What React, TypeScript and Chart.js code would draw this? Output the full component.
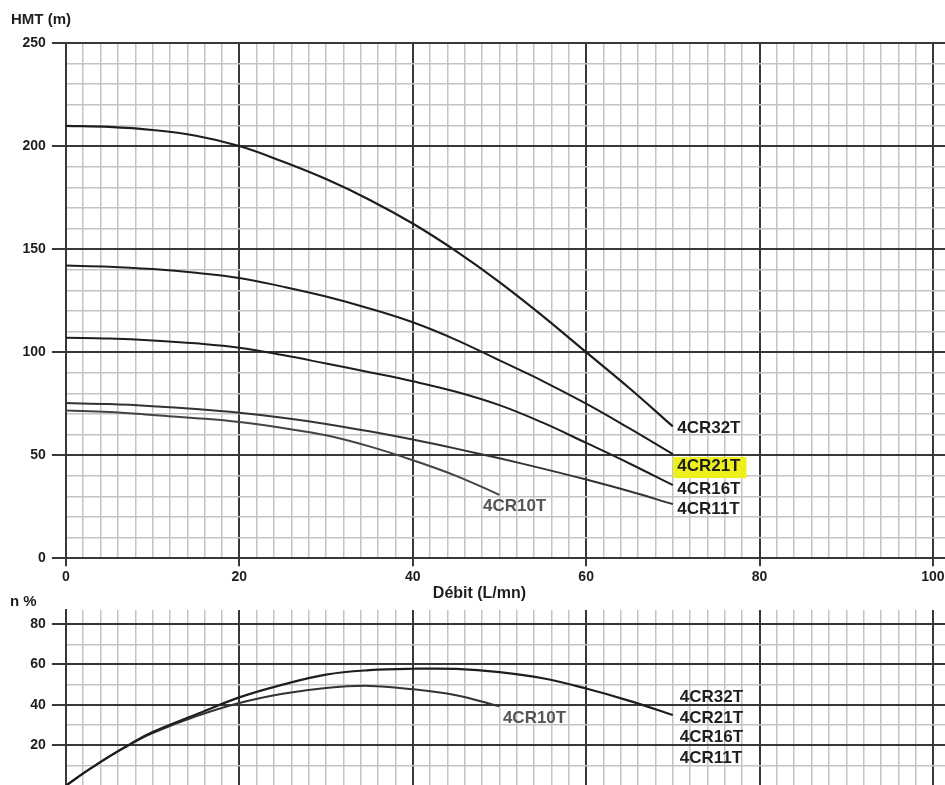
import React, { useEffect, useRef } from 'react';
import { Chart, registerables } from 'chart.js';

Chart.register(...registerables);

// ---------- DATA ----------
const flowH = [0, 5, 10, 15, 20, 25, 30, 35, 40, 45, 50, 55, 60, 65, 70];
const head4CR32T = [209.8, 209.3, 207.8, 205, 200, 192.5, 184, 174, 162.4, 149, 134, 117.5, 100, 82.5, 64];
const head4CR21T = [142, 141.5, 140.3, 138.5, 136, 131.8, 127, 121.2, 114.5, 106, 96, 86, 75, 63, 50.5];
const head4CR16T = [107, 106.6, 105.7, 104.3, 102.2, 98.6, 94.5, 90.3, 85.9, 80.8, 74.3, 65.8, 56, 46, 35.5];
const head4CR11T = [75.3, 74.8, 73.8, 72.4, 70.6, 68.2, 65.2, 61.6, 57.6, 53.2, 48.5, 43.5, 38.2, 32.5, 26.3];
const flowH10 = [0, 5, 10, 15, 20, 25, 30, 35, 40, 45, 50];
const head4CR10T = [71.7, 71, 69.5, 68, 66.1, 63.2, 59.7, 54.3, 47.6, 40, 30.8];

const flowEta = [0, 2.5, 5, 7.5, 10, 15, 20, 25, 30, 35, 40, 45, 50, 55, 60, 65, 70];
const eta4CR32T = [0, 7.5, 14.5, 20.8, 26.5, 35.2, 43.7, 50, 55, 57.2, 57.9, 57.8, 56.2, 53.2, 48.1, 42, 35];
const flowEta10 = [0, 2.5, 5, 7.5, 10, 15, 20, 25, 30, 35, 40, 45, 50];
const eta4CR10T = [0, 7.5, 14.4, 20.6, 26, 34.3, 40.9, 45.5, 48.4, 49.4, 47.7, 44.8, 39.3];

const curveNames = ['4CR32T', '4CR21T', '4CR16T', '4CR11T', '4CR10T'];
const headLabelAnchors = [[70.5, 63.0], [70.5, 44.5], [70.5, 33.6], [70.5, 23.9], [48.1, 25.0]];
const etaLabelAnchors = [[70.8, 43.5], [70.8, 33.4], [70.8, 24.0], [70.8, 13.5], [50.4, 33.3]];

const xTickLabels = [0, 20, 40, 60, 80, 100];
const headTickLabels = [0, 50, 100, 150, 200, 250];
const etaTickLabels = [20, 40, 60, 80];

// ---------- STYLE ----------
const FAMILY = '"Liberation Sans", Arial, Helvetica, sans-serif';
const MAJOR = '#383838';
const MINOR = '#c4c4c4';
const INK = '#1e1e1e';
const GREYINK = '#555555';
const TRANSPARENT = 'rgba(0,0,0,0)';
const tickFont = { family: FAMILY, size: 14, weight: 'bold' as const };

const pts = (xs: number[], ys: number[]) => xs.map((x, i) => ({ x, y: ys[i] }));
const stepTicks = (max: number, step: number) =>
  Array.from({ length: Math.floor(max / step) + 1 }, (_, i) => ({ value: i * step }));

function xScale(showLabels: boolean, height: number) {
  return {
    type: 'linear' as const,
    min: 0,
    max: 102,
    afterBuildTicks: (s: any) => { s.ticks = stepTicks(102, 2); },
    afterFit: (s: any) => { s.height = height; },
    ticks: {
      display: showLabels,
      autoSkip: false,
      maxRotation: 0,
      padding: 2,
      color: INK,
      font: tickFont,
      callback: (v: any) => (xTickLabels.includes(Number(v)) ? String(v) : ''),
    },
    grid: {
      color: (c: any) => (c.tick && c.tick.value % 20 === 0 ? MAJOR : MINOR),
      lineWidth: (c: any) => (c.tick && c.tick.value % 20 === 0 ? 2 : 1.5),
      drawTicks: showLabels,
      tickLength: 8,
      tickWidth: 2,
      tickColor: (c: any) => (c.tick && c.tick.value % 20 === 0 ? MAJOR : TRANSPARENT),
    },
    border: { color: MAJOR, width: 2 },
  };
}

function yScale(max: number, tickMax: number, majorStep: number, labels: number[]) {
  return {
    type: 'linear' as const,
    min: 0,
    max,
    afterBuildTicks: (s: any) => { s.ticks = stepTicks(tickMax, 10); },
    afterFit: (s: any) => { s.width = 65.9; },
    ticks: {
      autoSkip: false,
      padding: 6,
      color: INK,
      font: tickFont,
      callback: (v: any) => (labels.includes(Number(v)) ? String(v) : ''),
    },
    grid: {
      color: (c: any) => (c.tick && c.tick.value % majorStep === 0 ? MAJOR : MINOR),
      lineWidth: (c: any) => (c.tick && c.tick.value % majorStep === 0 ? 2 : 1.5),
      tickLength: 14,
      tickWidth: 2,
      tickColor: (c: any) => (c.tick && c.tick.value % majorStep === 0 ? MAJOR : TRANSPARENT),
    },
    border: { color: MAJOR, width: 2 },
  };
}

function lineDs(label: string, data: any[], width: number, color: string) {
  return {
    label,
    data,
    borderColor: color,
    borderWidth: width,
    pointRadius: 0,
    fill: false,
    tension: 0.4,
  };
}

function labelPlugin(id: string, anchors: number[][], extra: (ctx: CanvasRenderingContext2D, chart: any) => void) {
  return {
    id,
    afterDraw(chart: any) {
      const ctx: CanvasRenderingContext2D = chart.ctx;
      const xs = chart.scales.x;
      const ys = chart.scales.y;
      ctx.save();
      ctx.font = `bold 17px ${FAMILY}`;
      ctx.textAlign = 'left';
      ctx.textBaseline = 'middle';
      anchors.forEach((a, i) => {
        const name = curveNames[i];
        const px = xs.getPixelForValue(a[0]);
        const py = ys.getPixelForValue(a[1]);
        if (id === 'headLabels' && name === '4CR21T') {
          const w = ctx.measureText(name).width;
          ctx.fillStyle = '#eef01c';
          ctx.fillRect(px - 4, py - 9.5, w + 10, 21);
        }
        ctx.fillStyle = name === '4CR10T' ? GREYINK : INK;
        ctx.fillText(name, px, py);
      });
      extra(ctx, chart);
      ctx.restore();
    },
  };
}

export default function App() {
  const topRef = useRef<HTMLCanvasElement | null>(null);
  const botRef = useRef<HTMLCanvasElement | null>(null);

  useEffect(() => {
    if (!topRef.current || !botRef.current) return;

    const top = new Chart(topRef.current, {
      type: 'line',
      data: {
        datasets: [
          lineDs('4CR32T', pts(flowH, head4CR32T), 2.2, INK),
          lineDs('4CR21T', pts(flowH, head4CR21T), 2, INK),
          lineDs('4CR16T', pts(flowH, head4CR16T), 2, INK),
          lineDs('4CR11T', pts(flowH, head4CR11T), 2, '#333333'),
          lineDs('4CR10T', pts(flowH10, head4CR10T), 2, '#444444'),
        ],
      },
      options: {
        responsive: false,
        animation: false,
        events: [],
        layout: { padding: { left: 0, top: 43, right: 49.7, bottom: 0 } },
        plugins: { legend: { display: false }, tooltip: { enabled: false }, title: { display: false } },
        scales: {
          x: xScale(true, 51.7),
          y: yScale(250, 250, 50, headTickLabels),
        },
      },
      plugins: [
        labelPlugin('headLabels', headLabelAnchors, (ctx, chart) => {
          ctx.fillStyle = INK;
          ctx.font = `bold 15px ${FAMILY}`;
          ctx.textAlign = 'left';
          ctx.textBaseline = 'middle';
          ctx.fillText('HMT (m)', 11, 20);
          ctx.font = `bold 16px ${FAMILY}`;
          ctx.textAlign = 'center';
          ctx.fillText('Débit (L/mn)', chart.scales.x.getPixelForValue(47.7), chart.chartArea.bottom + 35);
        }),
      ],
    } as any);

    const bot = new Chart(botRef.current, {
      type: 'line',
      data: {
        datasets: [
          lineDs('4CR32T', pts(flowEta, eta4CR32T), 2.2, INK),
          lineDs('4CR10T', pts(flowEta10, eta4CR10T), 2, '#333333'),
        ],
      },
      options: {
        responsive: false,
        animation: false,
        events: [],
        layout: { padding: { left: 0, top: 25, right: 49.7, bottom: 0 } },
        plugins: { legend: { display: false }, tooltip: { enabled: false }, title: { display: false } },
        scales: {
          x: xScale(false, 12.6),
          y: yScale(87, 80, 20, etaTickLabels),
        },
      },
      plugins: [
        labelPlugin('etaLabels', etaLabelAnchors, (ctx) => {
          ctx.fillStyle = INK;
          ctx.font = `bold 15px ${FAMILY}`;
          ctx.textAlign = 'left';
          ctx.textBaseline = 'middle';
          ctx.fillText('n %', 10, 17);
        }),
      ],
    } as any);

    return () => {
      top.destroy();
      bot.destroy();
    };
  }, []);

  return (
    <div style={{ position: 'absolute', left: 0, top: 0, width: 945, height: 785, overflow: 'hidden', background: '#ffffff' }}>
      <canvas ref={topRef} width={1000} height={610} style={{ position: 'absolute', left: 0, top: 0, width: 1000, height: 610 }} />
      <canvas ref={botRef} width={1000} height={215} style={{ position: 'absolute', left: 0, top: 585, width: 1000, height: 215 }} />
    </div>
  );
}
